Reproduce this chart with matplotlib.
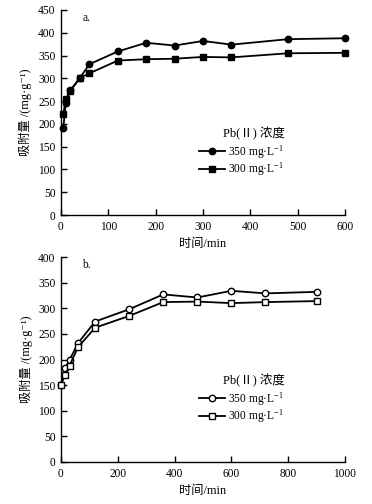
import matplotlib
matplotlib.use("Agg")
import matplotlib.pyplot as plt

plt.rcParams['font.family'] = ['Liberation Serif', 'Noto Sans CJK SC', 'DejaVu Serif']
plt.rcParams['mathtext.fontset'] = 'custom'
plt.rcParams['mathtext.rm'] = 'Liberation Serif'
plt.rcParams['mathtext.it'] = 'Liberation Serif:italic'

# Panel a
t_a = [5, 10, 20, 40, 60, 120, 180, 240, 300, 360, 480, 600]
a_350 = [192, 245, 274, 301, 331, 359, 378, 372, 382, 374, 386, 388]
a_300 = [222, 254, 273, 301, 311, 339, 342, 343, 347, 346, 355, 356]

# Panel b
t_b = [0, 15, 30, 60, 120, 240, 360, 480, 600, 720, 900]
b_350 = [151, 184, 199, 232, 274, 298, 327, 321, 334, 329, 332]
b_300 = [151, 170, 188, 224, 262, 285, 312, 313, 310, 312, 314]

legend_title = "Pb(Ⅱ) 浓度"
labels = ["350 mg·L$^{-1}$", "300 mg·L$^{-1}$"]
ylabel = "吸附量 /(mg·g⁻¹)"
xlabel = "时间/min"

fs = 8.3
fig = plt.figure(figsize=(3.72, 5.04), dpi=100)
W, H = 372, 504
ax1 = fig.add_axes([61 / W, 1 - 215 / H, 284 / W, 205 / H])
ax2 = fig.add_axes([61 / W, 1 - 462 / H, 284 / W, 205 / H])

lw = 1.3
ax1.plot(t_a, a_350, '-o', color='black', lw=lw, ms=4.6, mfc='black', label=labels[0], clip_on=False, zorder=3)
ax1.plot(t_a, a_300, '-s', color='black', lw=lw, ms=4.6, mfc='black', label=labels[1], clip_on=False, zorder=3)
ax1.set_xlim(0, 600)
ax1.set_ylim(0, 450)
ax1.set_xticks(range(0, 601, 100))
ax1.set_yticks(range(0, 451, 50))
ax1.text(0.075, 0.99, "a.", transform=ax1.transAxes, ha='left', va='top', fontsize=fs)

ax2.plot(t_b, b_350, '-o', color='black', lw=lw, ms=4.6, mfc='white', label=labels[0], clip_on=False, zorder=3)
ax2.plot(t_b, b_300, '-s', color='black', lw=lw, ms=4.6, mfc='white', label=labels[1], clip_on=False, zorder=3)
ax2.set_xlim(0, 1000)
ax2.set_ylim(0, 400)
ax2.set_xticks(range(0, 1001, 200))
ax2.set_yticks(range(0, 401, 50))
ax2.text(0.075, 0.99, "b.", transform=ax2.transAxes, ha='left', va='top', fontsize=fs)

for ax in (ax1, ax2):
    for s in ('top', 'right'):
        ax.spines[s].set_visible(False)
    for s in ('left', 'bottom'):
        ax.spines[s].set_linewidth(1.0)
    ax.tick_params(direction='in', length=4, width=1.0, labelsize=fs, pad=4)
    ax.set_xlabel(xlabel, fontsize=8.8, labelpad=4)
    ax.set_ylabel(ylabel, fontsize=8.8, labelpad=4)
    ax.text(0.57, 0.395, legend_title, transform=ax.transAxes, ha='left', va='center', fontsize=9)
    ax.legend(loc='upper left', bbox_to_anchor=(0.485, 0.35),
              frameon=False, fontsize=fs,
              handlelength=2.3, handletextpad=0.2, borderpad=0, borderaxespad=0,
              labelspacing=0.0)

fig.savefig("out.png", dpi=100)
